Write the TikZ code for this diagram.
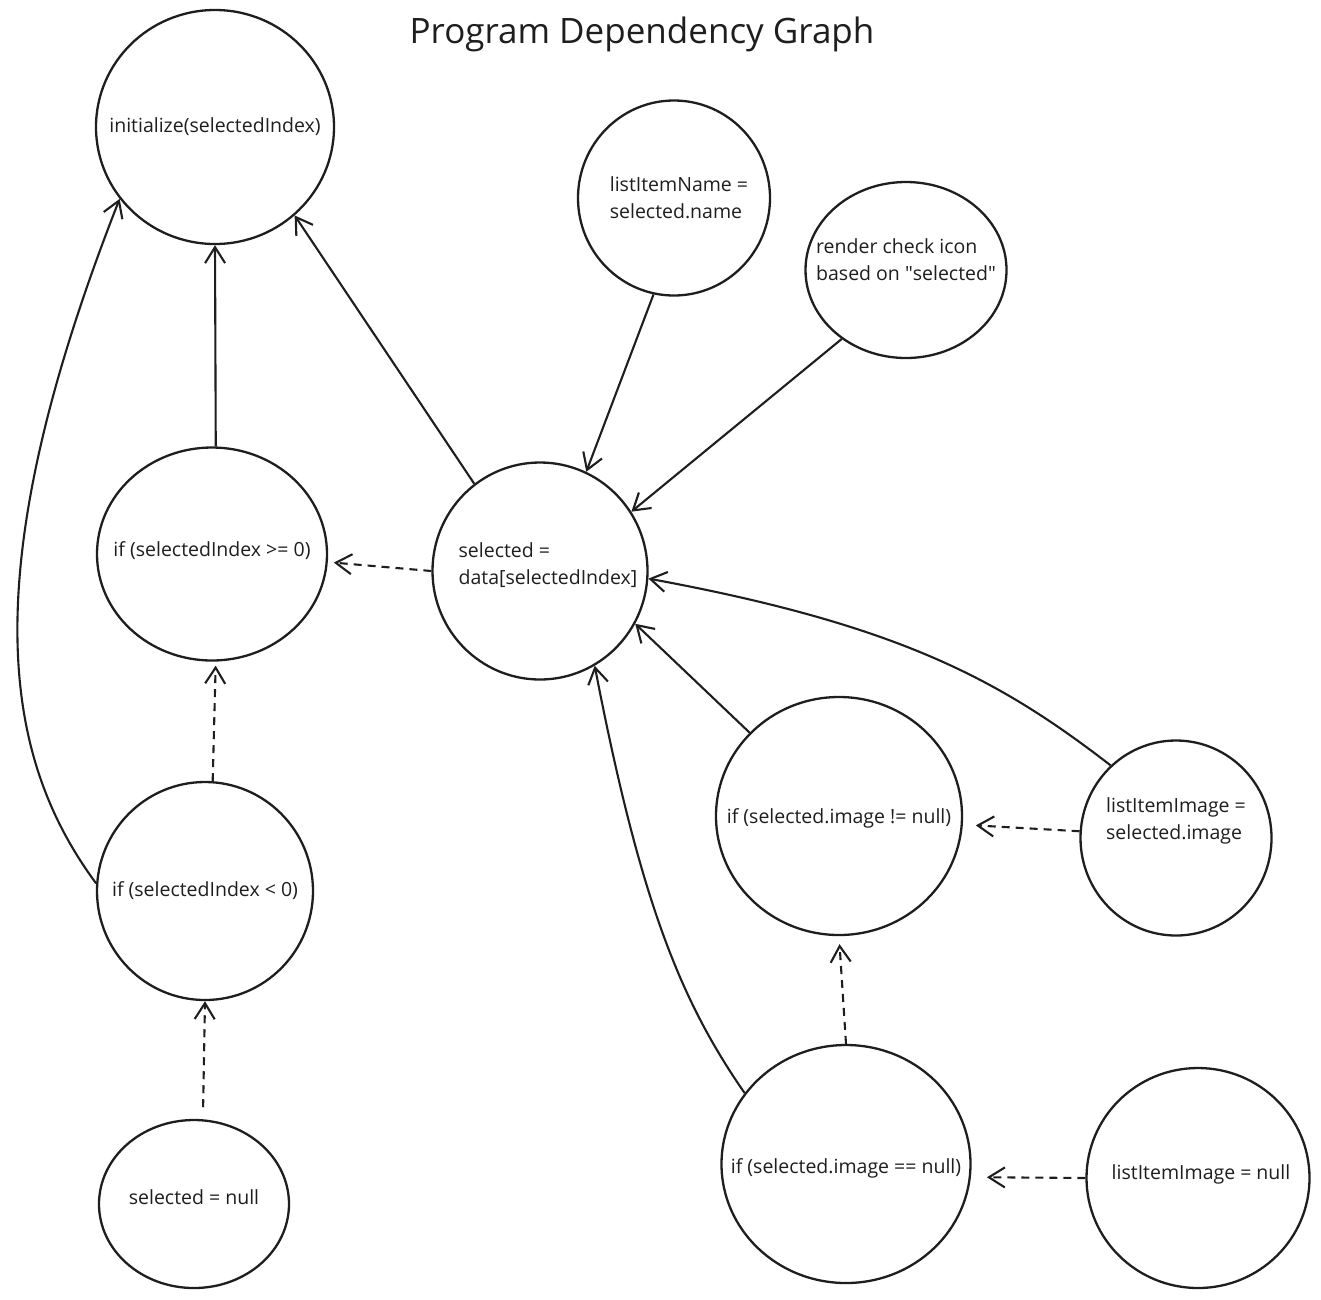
\documentclass[tikz,border=0pt]{standalone}
\usepackage{fontspec}
\setmainfont{Open Sans}
\usetikzlibrary{arrows.meta, shapes.geometric}
\definecolor{ink}{HTML}{1E1E1E}

\begin{document}
\begin{tikzpicture}[x=1pt,y=-1pt,
  bubble/.style={draw=ink, line width=2.3pt, ellipse, inner sep=0pt},
  txt/.style={text=ink, font=\fontsize{19.5}{27}\selectfont, align=left},
  dep/.style={draw=ink, line width=2.1pt, -{Straight Barb[length=16pt,width=20pt,line width=2.1pt]}},
  ctl/.style={dep, dash pattern=on 8pt off 6pt}]
\useasboundingbox (0,0) rectangle (1321,1299);
\node[text=ink, font=\fontsize{35}{40}\selectfont] (title) at (642,34) {Program Dependency Graph};
% statements
\node[bubble, minimum width=238pt, minimum height=234pt, label={[txt]center:initialize(selectedIndex)}] (init) at (215,127) {};
\node[bubble, minimum width=192pt, minimum height=195pt, label={[txt,xshift=5pt]center:listItemName =\\selected.name}] (name) at (674,198) {};
\node[bubble, minimum width=201pt, minimum height=176pt, label={[txt,yshift=10pt]center:render check icon\\based on \textquotedbl selected\textquotedbl}] (check) at (906,270) {};
\node[bubble, minimum width=230pt, minimum height=213pt, label={[txt,yshift=3pt]center:if (selectedIndex >= 0)}] (ifge) at (212,554) {};
\node[bubble, minimum width=215pt, minimum height=217pt, label={[txt,xshift=8pt,yshift=6pt]center:selected =\\data[selectedIndex]}] (sel) at (540,571) {};
\node[bubble, minimum width=216pt, minimum height=218pt, label={[txt]center:if (selectedIndex < 0)}] (iflt) at (205,891) {};
\node[bubble, minimum width=190pt, minimum height=168pt, label={[txt,yshift=7pt]center:selected = null}] (selnull) at (194,1204) {};
\node[bubble, minimum width=246pt, minimum height=238pt, label={[txt,yshift=-2pt]center:if (selected.image != null)}] (ifne) at (839,816) {};
\node[bubble, minimum width=191pt, minimum height=195pt, label={[txt,yshift=17pt]center:listItemImage =\\selected.image}] (imgsel) at (1176,838) {};
\node[bubble, minimum width=249pt, minimum height=238pt, label={[txt,yshift=-4pt]center:if (selected.image == null)}] (ifeq) at (846,1164) {};
\node[bubble, minimum width=223pt, minimum height=220pt, label={[txt,xshift=3pt,yshift=4pt]center:listItemImage = null}] (imgnull) at (1198,1178) {};
% data dependencies
\draw[dep] (ifge.88) -- (init.-90);
\draw[dep] (sel.127) -- (init.-48);
\draw[dep] (iflt.176) .. controls (5,760) and (-30,580) .. (init.217);
\draw[dep] (name.-102) -- (sel.65);
\draw[dep] (check.-133) -- (sel.33);
\draw[dep] (ifne.137) -- (sel.-29);
\draw[dep] (imgsel.132) .. controls (1000,680) and (900,625) .. (sel.-4);
\draw[dep] (ifeq.145) .. controls (680,1000) and (640,900) .. (sel.-60);
% control dependencies
\draw[ctl, shorten >=6pt] (sel.180) -- (ifge.-4);
\draw[ctl, shorten >=4pt] (iflt.86) -- (ifge.-88);
\draw[ctl, shorten <=12pt] (selnull.84) -- (iflt.-90);
\draw[ctl, shorten >=13pt] (imgsel.176) -- (ifne.-4);
\draw[ctl, shorten >=8pt] (ifeq.90) -- (ifne.-90);
\draw[ctl, shorten >=16pt] (imgnull.180) -- (ifeq.-6);
\end{tikzpicture}
\end{document}
